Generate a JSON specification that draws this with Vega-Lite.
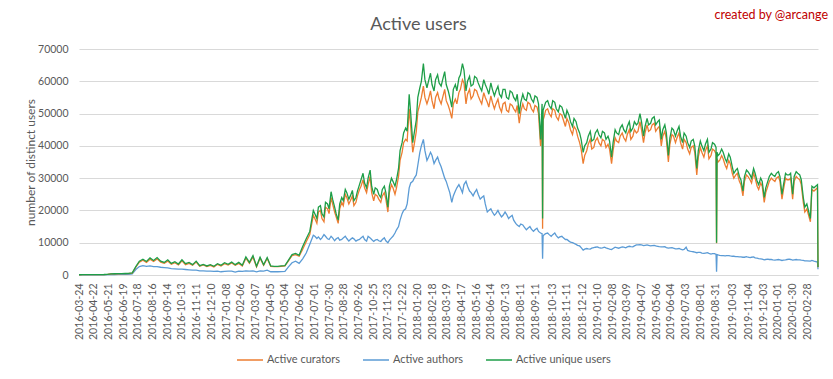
{
  "$schema": "https://vega.github.io/schema/vega-lite/v6.json",
  "width": 739,
  "height": 226,
  "autosize": {"type": "none"},
  "padding": {"left": 79, "top": 49, "right": 15, "bottom": 104},
  "background": "white",
  "config": {"view": {"stroke": null}, "font": "Lato"},
  "title": {"text": "Active users", "anchor": "middle", "dx": -30, "dy": 39, "offset": 14, "fontSize": 18, "font": "Lato", "fontWeight": "normal", "color": "#595959"},
  "resolve": {"axis": {"x": "independent", "y": "independent"}},
  "layer": [
    {
      "data": {"values": [
        {"d":"2016-03-24","u":80,"c":70,"a":30},{"d":"2016-03-31","u":100,"c":90,"a":40},{"d":"2016-04-07","u":110,"c":100,"a":40},{"d":"2016-04-14","u":120,"c":110,"a":50},{"d":"2016-04-21","u":130,"c":115,"a":50},{"d":"2016-04-28","u":130,"c":120,"a":50},{"d":"2016-05-05","u":140,"c":130,"a":60},{"d":"2016-05-12","u":150,"c":140,"a":60},{"d":"2016-05-19","u":220,"c":200,"a":90},{"d":"2016-05-26","u":350,"c":320,"a":150},{"d":"2016-06-02","u":380,"c":350,"a":160},{"d":"2016-06-09","u":400,"c":370,"a":170},{"d":"2016-06-16","u":430,"c":400,"a":180},{"d":"2016-06-23","u":460,"c":430,"a":200},{"d":"2016-06-30","u":500,"c":460,"a":220},{"d":"2016-07-07","u":650,"c":600,"a":330},{"d":"2016-07-14","u":2600,"c":2400,"a":1700},{"d":"2016-07-21","u":4300,"c":4000,"a":2600},{"d":"2016-07-28","u":4900,"c":4600,"a":2900},{"d":"2016-08-04","u":4200,"c":3900,"a":2700},{"d":"2016-08-11","u":5300,"c":4900,"a":2800},{"d":"2016-08-18","u":4500,"c":4200,"a":2600},{"d":"2016-08-25","u":5400,"c":5000,"a":2600},{"d":"2016-09-01","u":4300,"c":4000,"a":2400},{"d":"2016-09-08","u":3900,"c":3600,"a":2300},{"d":"2016-09-15","u":4700,"c":4300,"a":2200},{"d":"2016-09-22","u":3600,"c":3300,"a":2000},{"d":"2016-09-29","u":4100,"c":3800,"a":1900},{"d":"2016-10-06","u":3400,"c":3100,"a":1800},{"d":"2016-10-13","u":4700,"c":4400,"a":1800},{"d":"2016-10-20","u":3500,"c":3200,"a":1700},{"d":"2016-10-27","u":3900,"c":3600,"a":1600},{"d":"2016-11-03","u":3200,"c":3000,"a":1500},{"d":"2016-11-10","u":4300,"c":4000,"a":1500},{"d":"2016-11-17","u":2900,"c":2700,"a":1300},{"d":"2016-11-24","u":3300,"c":3100,"a":1300},{"d":"2016-12-01","u":2800,"c":2600,"a":1200},{"d":"2016-12-08","u":3200,"c":3000,"a":1200},{"d":"2016-12-15","u":2700,"c":2500,"a":1100},{"d":"2016-12-22","u":3500,"c":3300,"a":1200},{"d":"2016-12-29","u":3000,"c":2800,"a":1000},
        {"d":"2017-01-05","u":3800,"c":3500,"a":1100},{"d":"2017-01-12","u":3300,"c":3100,"a":1200},{"d":"2017-01-19","u":4000,"c":3700,"a":1200},{"d":"2017-01-26","u":3200,"c":3000,"a":900},{"d":"2017-02-02","u":3900,"c":3600,"a":1200},{"d":"2017-02-09","u":3000,"c":2800,"a":1100},{"d":"2017-02-16","u":5600,"c":5200,"a":1300},{"d":"2017-02-23","u":3900,"c":3600,"a":1200},{"d":"2017-03-02","u":6000,"c":5600,"a":1300},{"d":"2017-03-09","u":2700,"c":2500,"a":1000},{"d":"2017-03-16","u":5500,"c":5200,"a":1300},{"d":"2017-03-23","u":3200,"c":3000,"a":1200},{"d":"2017-03-30","u":5400,"c":5100,"a":1500},{"d":"2017-04-06","u":2800,"c":2700,"a":1000},{"d":"2017-04-13","u":2700,"c":2600,"a":1000},{"d":"2017-04-20","u":2700,"c":2600,"a":1000},{"d":"2017-04-27","u":2800,"c":2700,"a":1050},{"d":"2017-05-04","u":2900,"c":2800,"a":1100},{"d":"2017-05-11","u":4600,"c":4400,"a":2500},{"d":"2017-05-18","u":6300,"c":6000,"a":3800},{"d":"2017-05-25","u":6700,"c":6300,"a":4300},{"d":"2017-06-01","u":6100,"c":5800,"a":3600},{"d":"2017-06-08","u":8800,"c":8000,"a":5000},{"d":"2017-06-15","u":11200,"c":10300,"a":6800},{"d":"2017-06-22","u":13500,"c":12500,"a":9500},{"d":"2017-06-29","u":20000,"c":18500,"a":12300},{"d":"2017-07-06","u":17500,"c":16000,"a":11300},{"d":"2017-07-13","u":21500,"c":20000,"a":11000},{"d":"2017-07-20","u":18000,"c":16500,"a":12500},{"d":"2017-07-27","u":22000,"c":20500,"a":11200},{"d":"2017-08-03","u":25800,"c":24000,"a":12000},{"d":"2017-08-10","u":21000,"c":19500,"a":10600},{"d":"2017-08-17","u":17000,"c":16000,"a":11600},{"d":"2017-08-24","u":24000,"c":22500,"a":11000},{"d":"2017-08-31","u":26500,"c":25000,"a":12000},{"d":"2017-09-07","u":23500,"c":22000,"a":10500},{"d":"2017-09-14","u":26200,"c":24500,"a":11500},{"d":"2017-09-21","u":24000,"c":22500,"a":10500},{"d":"2017-09-28","u":28000,"c":26500,"a":11000},{"d":"2017-10-05","u":31500,"c":29500,"a":12000},{"d":"2017-10-12","u":27000,"c":25500,"a":10500},{"d":"2017-10-19","u":32500,"c":30500,"a":11500},{"d":"2017-10-26","u":25000,"c":23000,"a":10400},{"d":"2017-11-02","u":26500,"c":24500,"a":11000},{"d":"2017-11-09","u":24000,"c":22500,"a":10400},{"d":"2017-11-16","u":27500,"c":25500,"a":11500},{"d":"2017-11-23","u":21000,"c":19500,"a":10000},{"d":"2017-11-30","u":30000,"c":28000,"a":11500},{"d":"2017-12-07","u":27500,"c":25000,"a":13000},{"d":"2017-12-14","u":33000,"c":30500,"a":15000},{"d":"2017-12-21","u":41000,"c":38000,"a":19000},{"d":"2017-12-28","u":45500,"c":42000,"a":20500},
        {"d":"2018-01-04","u":56000,"c":51500,"a":27000},{"d":"2018-01-11","u":41000,"c":38000,"a":29000},{"d":"2018-01-18","u":48000,"c":44500,"a":31000},{"d":"2018-01-25","u":58000,"c":53000,"a":38000},{"d":"2018-02-01","u":65500,"c":58500,"a":42000},{"d":"2018-02-08","u":58000,"c":53000,"a":35500},{"d":"2018-02-15","u":62500,"c":57000,"a":38000},{"d":"2018-02-22","u":57000,"c":51500,"a":34500},{"d":"2018-03-01","u":62000,"c":56500,"a":36500},{"d":"2018-03-08","u":58500,"c":53000,"a":33500},{"d":"2018-03-15","u":63000,"c":57500,"a":30000},{"d":"2018-03-22","u":57000,"c":52500,"a":27000},{"d":"2018-03-29","u":52000,"c":48500,"a":22500},{"d":"2018-04-05","u":59000,"c":54500,"a":26000},{"d":"2018-04-12","u":61000,"c":56500,"a":28000},{"d":"2018-04-19","u":65500,"c":60500,"a":25500},{"d":"2018-04-26","u":57000,"c":53000,"a":29000},{"d":"2018-05-03","u":61500,"c":57500,"a":26000},{"d":"2018-05-10","u":59000,"c":55500,"a":24500},{"d":"2018-05-17","u":61000,"c":57000,"a":26500},{"d":"2018-05-24","u":58000,"c":54000,"a":23500},{"d":"2018-05-31","u":60500,"c":56500,"a":24500},{"d":"2018-06-07","u":57500,"c":53500,"a":19500},{"d":"2018-06-14","u":59500,"c":55500,"a":20500},{"d":"2018-06-21","u":55500,"c":51500,"a":18500},{"d":"2018-06-28","u":58500,"c":54500,"a":20000},{"d":"2018-07-05","u":55000,"c":50500,"a":18000},{"d":"2018-07-12","u":57500,"c":53500,"a":19500},{"d":"2018-07-19","u":54500,"c":50500,"a":17500},{"d":"2018-07-26","u":56500,"c":52500,"a":18500},{"d":"2018-08-02","u":54000,"c":50500,"a":16000},{"d":"2018-08-09","u":50000,"c":47000,"a":15000},{"d":"2018-08-16","u":56000,"c":53000,"a":15500},{"d":"2018-08-23","u":54000,"c":51000,"a":14000},{"d":"2018-08-30","u":56000,"c":53000,"a":15000},{"d":"2018-09-06","u":53500,"c":50500,"a":13500},{"d":"2018-09-13","u":55000,"c":52000,"a":14500},{"d":"2018-09-20","u":42000,"c":40000,"a":13000},{"d":"2018-09-23","u":53000,"c":50000,"a":12800},{"d":"2018-09-24","u":17500,"c":14300,"a":5000},{"d":"2018-09-25","u":51000,"c":48000,"a":12000},{"d":"2018-09-27","u":52000,"c":49000,"a":12500},{"d":"2018-10-04","u":54000,"c":51500,"a":13000},{"d":"2018-10-11","u":51500,"c":49000,"a":12000},{"d":"2018-10-18","u":53500,"c":51000,"a":13000},{"d":"2018-10-25","u":50500,"c":48000,"a":11500},{"d":"2018-11-01","u":52000,"c":49500,"a":12000},{"d":"2018-11-08","u":48500,"c":46000,"a":11000},{"d":"2018-11-15","u":49500,"c":47000,"a":10500},{"d":"2018-11-22","u":46000,"c":43500,"a":10000},{"d":"2018-11-29","u":47500,"c":45000,"a":9500},{"d":"2018-12-06","u":44000,"c":41000,"a":9000},{"d":"2018-12-13","u":38000,"c":34500,"a":7700},{"d":"2018-12-20","u":41000,"c":38500,"a":8200},{"d":"2018-12-27","u":44500,"c":42000,"a":8000},
        {"d":"2019-01-03","u":42000,"c":39500,"a":8500},{"d":"2019-01-10","u":45000,"c":42500,"a":8700},{"d":"2019-01-17","u":42500,"c":40000,"a":8300},{"d":"2019-01-24","u":44000,"c":41500,"a":8600},{"d":"2019-01-31","u":43000,"c":40500,"a":8200},{"d":"2019-02-07","u":36500,"c":34500,"a":7900},{"d":"2019-02-14","u":45000,"c":42500,"a":8600},{"d":"2019-02-21","u":43500,"c":41000,"a":8300},{"d":"2019-02-28","u":46500,"c":44000,"a":8700},{"d":"2019-03-07","u":44000,"c":41500,"a":8400},{"d":"2019-03-14","u":47500,"c":45000,"a":8900},{"d":"2019-03-21","u":45500,"c":43000,"a":8700},{"d":"2019-03-28","u":46500,"c":44000,"a":9300},{"d":"2019-04-04","u":50000,"c":47500,"a":9400},{"d":"2019-04-11","u":43000,"c":41000,"a":9100},{"d":"2019-04-18","u":48500,"c":46500,"a":9300},{"d":"2019-04-25","u":47000,"c":45000,"a":9000},{"d":"2019-05-02","u":49000,"c":47000,"a":9200},{"d":"2019-05-09","u":47500,"c":45500,"a":8900},{"d":"2019-05-16","u":42000,"c":40000,"a":8700},{"d":"2019-05-23","u":46500,"c":44500,"a":8800},{"d":"2019-05-30","u":37000,"c":35000,"a":8300},{"d":"2019-06-06","u":45500,"c":43500,"a":8500},{"d":"2019-06-13","u":43000,"c":41000,"a":8100},{"d":"2019-06-20","u":46000,"c":44000,"a":8200},{"d":"2019-06-27","u":41000,"c":39000,"a":7800},{"d":"2019-07-04","u":43000,"c":41000,"a":8600},{"d":"2019-07-11","u":39500,"c":37500,"a":7400},{"d":"2019-07-18","u":42000,"c":40000,"a":7200},{"d":"2019-07-25","u":33000,"c":31000,"a":6900},{"d":"2019-08-01","u":41500,"c":39500,"a":7000},{"d":"2019-08-08","u":38500,"c":36500,"a":6700},{"d":"2019-08-15","u":42000,"c":40000,"a":6900},{"d":"2019-08-22","u":39000,"c":37000,"a":6500},{"d":"2019-08-29","u":40500,"c":38500,"a":6600},{"d":"2019-09-01","u":39500,"c":37500,"a":6400},{"d":"2019-09-02","u":10000,"c":9800,"a":1000},{"d":"2019-09-03","u":38000,"c":36000,"a":6300},{"d":"2019-09-05","u":37000,"c":35000,"a":6200},{"d":"2019-09-12","u":39000,"c":37000,"a":6000},{"d":"2019-09-19","u":36000,"c":34000,"a":5900},{"d":"2019-09-26","u":37500,"c":35500,"a":6000},{"d":"2019-10-03","u":33500,"c":31500,"a":5800},{"d":"2019-10-10","u":32500,"c":31000,"a":5700},{"d":"2019-10-17","u":30500,"c":29000,"a":5600},{"d":"2019-10-24","u":26000,"c":24500,"a":5500},{"d":"2019-10-31","u":32500,"c":31000,"a":5700},{"d":"2019-11-07","u":31000,"c":29500,"a":5400},{"d":"2019-11-14","u":33000,"c":31500,"a":5600},{"d":"2019-11-21","u":29000,"c":27500,"a":5200},{"d":"2019-11-28","u":30000,"c":28500,"a":5000},{"d":"2019-12-05","u":24000,"c":22500,"a":4700},{"d":"2019-12-12","u":29000,"c":27500,"a":4900},{"d":"2019-12-19","u":31500,"c":30000,"a":4800},{"d":"2019-12-26","u":30500,"c":29000,"a":4600},
        {"d":"2020-01-02","u":32000,"c":30500,"a":4800},{"d":"2020-01-09","u":25000,"c":23500,"a":4500},{"d":"2020-01-16","u":31500,"c":30000,"a":4700},{"d":"2020-01-23","u":31000,"c":29500,"a":4900},{"d":"2020-01-30","u":25000,"c":23500,"a":4600},{"d":"2020-02-06","u":32000,"c":30500,"a":4800},{"d":"2020-02-13","u":31000,"c":29500,"a":4700},{"d":"2020-02-20","u":24000,"c":22500,"a":4500},{"d":"2020-02-27","u":22000,"c":20500,"a":4400},{"d":"2020-03-05","u":17500,"c":16500,"a":4300},{"d":"2020-03-08","u":27500,"c":26500,"a":4500},{"d":"2020-03-12","u":27000,"c":26000,"a":4300},{"d":"2020-03-19","u":28000,"c":27000,"a":4000},{"d":"2020-03-20","u":2500,"c":2400,"a":1800},
        {"d":"2017-07-02","u":19000,"c":17500,"a":12000},{"d":"2017-07-09","u":21000,"c":19500,"a":11800},{"d":"2017-07-16","u":19000,"c":17500,"a":11500},{"d":"2017-07-23","u":22500,"c":21000,"a":12000},{"d":"2017-07-30","u":20500,"c":19000,"a":11000},{"d":"2017-08-06","u":23500,"c":22000,"a":11500},{"d":"2017-08-13","u":19000,"c":18000,"a":11200},{"d":"2017-08-20","u":22000,"c":20500,"a":10800},{"d":"2017-08-27","u":23000,"c":21500,"a":11500},{"d":"2017-09-03","u":25500,"c":24000,"a":11300},{"d":"2017-09-10","u":24500,"c":23000,"a":11000},{"d":"2017-09-17","u":23000,"c":21500,"a":11200},{"d":"2017-09-24","u":26000,"c":24500,"a":10800},{"d":"2017-10-01","u":29500,"c":27500,"a":11500},{"d":"2017-10-08","u":28500,"c":27000,"a":11000},{"d":"2017-10-15","u":30000,"c":28000,"a":12000},{"d":"2017-10-22","u":27500,"c":25500,"a":11000},{"d":"2017-10-29","u":27000,"c":25000,"a":10800},{"d":"2017-11-05","u":25000,"c":23500,"a":10600},{"d":"2017-11-12","u":26500,"c":24500,"a":11000},{"d":"2017-11-19","u":25500,"c":23500,"a":10600},{"d":"2017-11-26","u":27500,"c":25500,"a":10800},{"d":"2017-12-03","u":29000,"c":27000,"a":12000},{"d":"2017-12-10","u":29500,"c":27000,"a":14000},{"d":"2017-12-17","u":38500,"c":35500,"a":17000},{"d":"2017-12-24","u":44000,"c":41000,"a":20000},{"d":"2017-12-31","u":44500,"c":41500,"a":22000},
        {"d":"2018-01-07","u":50000,"c":46000,"a":28500},{"d":"2018-01-14","u":44000,"c":40500,"a":30000},{"d":"2018-01-21","u":55000,"c":50500,"a":34000},{"d":"2018-01-28","u":60000,"c":55000,"a":40000},{"d":"2018-02-04","u":60500,"c":55000,"a":38500},{"d":"2018-02-11","u":60000,"c":54500,"a":36500},{"d":"2018-02-18","u":59000,"c":54000,"a":37000},{"d":"2018-02-25","u":60500,"c":55000,"a":35500},{"d":"2018-03-04","u":59500,"c":54500,"a":35000},{"d":"2018-03-11","u":60500,"c":55000,"a":32000},{"d":"2018-03-18","u":59000,"c":54000,"a":29000},{"d":"2018-03-25","u":55000,"c":51000,"a":25500},{"d":"2018-04-01","u":57500,"c":53000,"a":24500},{"d":"2018-04-08","u":57000,"c":53000,"a":27000},{"d":"2018-04-15","u":62000,"c":57500,"a":27000},{"d":"2018-04-22","u":63500,"c":59500,"a":28000},{"d":"2018-04-29","u":60000,"c":56000,"a":27500},{"d":"2018-05-06","u":58500,"c":54500,"a":25500},{"d":"2018-05-13","u":61500,"c":57500,"a":25500},{"d":"2018-05-20","u":59500,"c":55500,"a":25000},{"d":"2018-05-27","u":57000,"c":53000,"a":24000},{"d":"2018-06-03","u":59000,"c":55000,"a":22000},{"d":"2018-06-10","u":56000,"c":52000,"a":20000},{"d":"2018-06-17","u":57500,"c":53500,"a":19500},{"d":"2018-06-24","u":57000,"c":53000,"a":19000},{"d":"2018-07-01","u":56000,"c":52000,"a":19000},{"d":"2018-07-08","u":57500,"c":53000,"a":18500},{"d":"2018-07-15","u":55000,"c":51000,"a":18800},{"d":"2018-07-22","u":57000,"c":53000,"a":18000},{"d":"2018-07-29","u":55000,"c":51500,"a":17000},{"d":"2018-08-05","u":56000,"c":52500,"a":15500},{"d":"2018-08-12","u":53500,"c":50500,"a":15800},{"d":"2018-08-19","u":54500,"c":51500,"a":14800},{"d":"2018-08-26","u":56500,"c":53500,"a":14500},{"d":"2018-09-02","u":54500,"c":51500,"a":14200},{"d":"2018-09-09","u":55500,"c":52500,"a":14000},{"d":"2018-09-16","u":53000,"c":50000,"a":13500},{"d":"2018-09-30","u":53500,"c":51000,"a":12800},{"d":"2018-10-07","u":52500,"c":50000,"a":12500},{"d":"2018-10-14","u":54000,"c":51500,"a":12500},{"d":"2018-10-21","u":51500,"c":49000,"a":12200},{"d":"2018-10-28","u":52500,"c":50000,"a":11800},{"d":"2018-11-04","u":50500,"c":48000,"a":11500},{"d":"2018-11-11","u":51000,"c":48500,"a":11000},{"d":"2018-11-18","u":47500,"c":45000,"a":10200},{"d":"2018-11-25","u":48500,"c":46000,"a":9800},{"d":"2018-12-02","u":45500,"c":43000,"a":9200},{"d":"2018-12-09","u":42000,"c":39000,"a":8500},{"d":"2018-12-16","u":40000,"c":37000,"a":8000},{"d":"2018-12-23","u":43000,"c":40500,"a":8100},{"d":"2018-12-30","u":41500,"c":39000,"a":8300},
        {"d":"2019-01-06","u":44000,"c":41500,"a":8600},{"d":"2019-01-13","u":43500,"c":41000,"a":8500},{"d":"2019-01-20","u":44500,"c":42000,"a":8400},{"d":"2019-01-27","u":42000,"c":39500,"a":8400},{"d":"2019-02-03","u":41500,"c":39000,"a":8000},{"d":"2019-02-10","u":41000,"c":38500,"a":8200},{"d":"2019-02-17","u":44000,"c":41500,"a":8500},{"d":"2019-02-24","u":45500,"c":43000,"a":8500},{"d":"2019-03-03","u":45000,"c":42500,"a":8600},{"d":"2019-03-10","u":46000,"c":43500,"a":8700},{"d":"2019-03-17","u":44500,"c":42000,"a":8800},{"d":"2019-03-24","u":47500,"c":45000,"a":9000},{"d":"2019-03-31","u":47000,"c":44500,"a":9300},{"d":"2019-04-07","u":47500,"c":45000,"a":9300},{"d":"2019-04-14","u":46000,"c":44000,"a":9200},{"d":"2019-04-21","u":46500,"c":44500,"a":9200},{"d":"2019-04-28","u":48500,"c":46500,"a":9100},{"d":"2019-05-05","u":46500,"c":44500,"a":9000},{"d":"2019-05-12","u":48000,"c":46000,"a":8800},{"d":"2019-05-19","u":45000,"c":43000,"a":8700},{"d":"2019-05-26","u":44000,"c":42000,"a":8500},{"d":"2019-06-02","u":42500,"c":40500,"a":8400},{"d":"2019-06-09","u":45000,"c":43000,"a":8300},{"d":"2019-06-16","u":44500,"c":42500,"a":8100},{"d":"2019-06-23","u":43000,"c":41000,"a":8000},{"d":"2019-06-30","u":44000,"c":42000,"a":7900},{"d":"2019-07-07","u":41000,"c":39000,"a":7600},{"d":"2019-07-14","u":41500,"c":39500,"a":7300},{"d":"2019-07-21","u":40000,"c":38000,"a":7100},{"d":"2019-07-28","u":38500,"c":36500,"a":7000},{"d":"2019-08-04","u":40000,"c":38000,"a":6800},{"d":"2019-08-11","u":40500,"c":38500,"a":6800},{"d":"2019-08-18","u":38000,"c":36000,"a":6700},{"d":"2019-08-25","u":41000,"c":39000,"a":6600},{"d":"2019-09-08","u":37500,"c":35500,"a":6100},{"d":"2019-09-15","u":38000,"c":36000,"a":6000},{"d":"2019-09-22","u":35000,"c":33000,"a":6000},{"d":"2019-09-29","u":36500,"c":34500,"a":5900},{"d":"2019-10-06","u":31500,"c":30000,"a":5800},{"d":"2019-10-13","u":33000,"c":31500,"a":5700},{"d":"2019-10-20","u":29500,"c":28000,"a":5600},{"d":"2019-10-27","u":30500,"c":29000,"a":5500},{"d":"2019-11-03","u":32000,"c":30500,"a":5500},{"d":"2019-11-10","u":30000,"c":28500,"a":5500},{"d":"2019-11-17","u":31500,"c":30000,"a":5300},{"d":"2019-11-24","u":28000,"c":26500,"a":5100},{"d":"2019-12-01","u":29000,"c":27500,"a":4900},{"d":"2019-12-08","u":27000,"c":25500,"a":4800},{"d":"2019-12-15","u":30500,"c":29000,"a":4800},{"d":"2019-12-22","u":31000,"c":29500,"a":4700},{"d":"2019-12-29","u":31500,"c":30000,"a":4700},
        {"d":"2020-01-05","u":30500,"c":29000,"a":4700},{"d":"2020-01-12","u":28000,"c":26500,"a":4600},{"d":"2020-01-19","u":31000,"c":29500,"a":4800},{"d":"2020-01-26","u":31500,"c":30000,"a":4800},{"d":"2020-02-02","u":30500,"c":29000,"a":4700},{"d":"2020-02-09","u":31500,"c":30000,"a":4700},{"d":"2020-02-16","u":29500,"c":28000,"a":4600},{"d":"2020-02-23","u":21000,"c":19500,"a":4400}
      ]},
      "transform": [{"fold": ["a", "c", "u"], "as": ["s", "v"]}],
      "mark": {"type": "line", "strokeWidth": 1.3, "interpolate": "linear"},
      "encoding": {
        "x": {
          "field": "d", "type": "temporal",
          "scale": {"type": "utc", "domain": [{"year":2016,"month":3,"date":24,"utc":true},{"year":2020,"month":3,"date":20,"utc":true}]},
          "axis": {
            "title": null, "format": "%Y-%m-%d", "labelAngle": 270, "labelFont": "Lato", "labelFontSize": 10.5, "labelColor": "#595959",
            "ticks": false, "grid": false, "domainColor": "#d9d9d9", "labelPadding": 8, "labelOverlap": false, "labelFlush": false, "labelBound": false,
            "values": [
              {"year":2016,"month":3,"date":24,"utc":true},{"year":2016,"month":4,"date":22,"utc":true},{"year":2016,"month":5,"date":21,"utc":true},{"year":2016,"month":6,"date":19,"utc":true},{"year":2016,"month":7,"date":18,"utc":true},{"year":2016,"month":8,"date":16,"utc":true},{"year":2016,"month":9,"date":14,"utc":true},{"year":2016,"month":10,"date":13,"utc":true},{"year":2016,"month":11,"date":11,"utc":true},{"year":2016,"month":12,"date":10,"utc":true},
              {"year":2017,"month":1,"date":8,"utc":true},{"year":2017,"month":2,"date":6,"utc":true},{"year":2017,"month":3,"date":7,"utc":true},{"year":2017,"month":4,"date":5,"utc":true},{"year":2017,"month":5,"date":4,"utc":true},{"year":2017,"month":6,"date":2,"utc":true},{"year":2017,"month":7,"date":1,"utc":true},{"year":2017,"month":7,"date":30,"utc":true},{"year":2017,"month":8,"date":28,"utc":true},{"year":2017,"month":9,"date":26,"utc":true},{"year":2017,"month":10,"date":25,"utc":true},{"year":2017,"month":11,"date":23,"utc":true},{"year":2017,"month":12,"date":22,"utc":true},
              {"year":2018,"month":1,"date":20,"utc":true},{"year":2018,"month":2,"date":18,"utc":true},{"year":2018,"month":3,"date":19,"utc":true},{"year":2018,"month":4,"date":17,"utc":true},{"year":2018,"month":5,"date":16,"utc":true},{"year":2018,"month":6,"date":14,"utc":true},{"year":2018,"month":7,"date":13,"utc":true},{"year":2018,"month":8,"date":11,"utc":true},{"year":2018,"month":9,"date":11,"utc":true},{"year":2018,"month":10,"date":13,"utc":true},{"year":2018,"month":11,"date":11,"utc":true},{"year":2018,"month":12,"date":12,"utc":true},
              {"year":2019,"month":1,"date":10,"utc":true},{"year":2019,"month":2,"date":8,"utc":true},{"year":2019,"month":3,"date":9,"utc":true},{"year":2019,"month":4,"date":7,"utc":true},{"year":2019,"month":5,"date":6,"utc":true},{"year":2019,"month":6,"date":4,"utc":true},{"year":2019,"month":7,"date":3,"utc":true},{"year":2019,"month":8,"date":1,"utc":true},{"year":2019,"month":8,"date":31,"utc":true},{"year":2019,"month":10,"date":3,"utc":true},{"year":2019,"month":11,"date":4,"utc":true},{"year":2019,"month":12,"date":3,"utc":true},
              {"year":2020,"month":1,"date":1,"utc":true},{"year":2020,"month":1,"date":30,"utc":true},{"year":2020,"month":2,"date":28,"utc":true}
            ]
          }
        },
        "y": {
          "field": "v", "type": "quantitative",
          "scale": {"domain": [0, 70000], "nice": false},
          "axis": {
            "values": [0,10000,20000,30000,40000,50000,60000,70000], "format": "d",
            "grid": true, "gridColor": "#d9d9d9", "domain": false, "ticks": false,
            "labelFont": "Lato", "labelFontSize": 10.5, "labelColor": "#595959", "labelPadding": 11,
            "title": "number of distinct users", "titleFont": "Lato", "titleFontSize": 12, "titleFontWeight": "normal", "titleColor": "#595959",
            "titleX": -49, "titleY": 113, "titleAngle": 270, "titleAlign": "center", "titleBaseline": "middle"
          }
        },
        "color": {
          "field": "s", "type": "nominal",
          "scale": {"domain": ["c", "a", "u"], "range": ["#ED7D31", "#5B9BD5", "#1E9E48"]},
          "legend": {
            "title": null, "orient": "none", "direction": "horizontal", "legendX": 157, "legendY": 297,
            "symbolType": "stroke", "symbolSize": 676, "symbolStrokeWidth": 1.5,
            "labelFont": "Lato", "labelFontSize": 11, "labelColor": "#595959", "labelOffset": 3, "columnPadding": 19,
            "labelExpr": "datum.value == 'c' ? 'Active curators' : datum.value == 'a' ? 'Active authors' : 'Active unique users'"
          }
        }
      }
    },
    {
      "data": {"values": [{"t": "created by @arcange"}]},
      "mark": {"type": "text", "align": "right", "baseline": "middle", "color": "#C00000", "font": "Lato", "fontSize": 12.5, "dx": 10, "dy": -34},
      "encoding": {
        "x": {"datum": {"year":2020,"month":3,"date":20,"utc":true}, "type": "temporal", "axis": null},
        "y": {"datum": 70000, "type": "quantitative", "axis": null},
        "text": {"field": "t"}
      }
    }
  ]
}
